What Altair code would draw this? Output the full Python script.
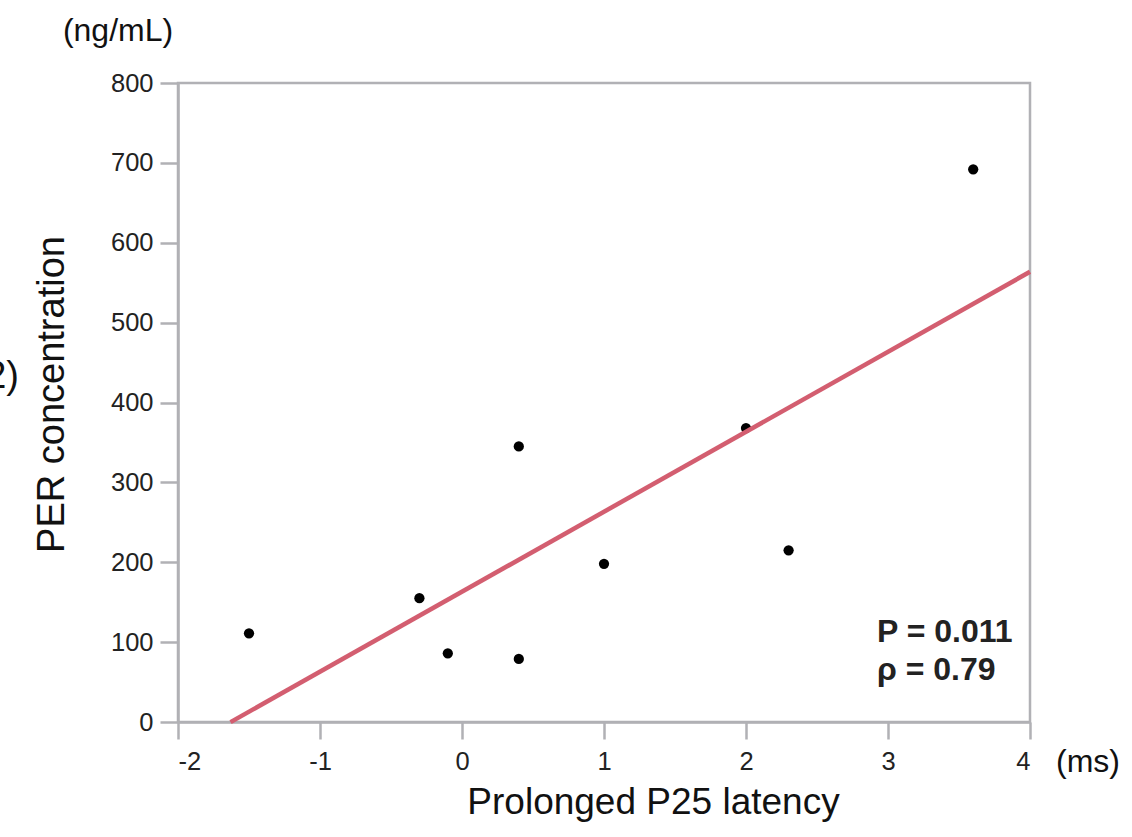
import altair as alt
import pandas as pd

# Data
latency_ms = [-1.5, -0.3, -0.1, 0.4, 0.4, 1.0, 2.0, 2.3, 3.6]
per_ng_ml = [111, 155, 86, 345, 79, 198, 368, 215, 692]
fit_extent = [-1.63, 4.0]
x_ticks = [-2, -1, 0, 1, 2, 3, 4]
y_ticks = [0, 100, 200, 300, 400, 500, 600, 700, 800]
stats_text = ["P = 0.011", "ρ = 0.79"]
x_title = "Prolonged P25 latency"
y_title = "PER concentration"
x_unit = "(ms)"
y_unit = "(ng/mL)"
panel_label = "(2)"

df = pd.DataFrame({"x": latency_ms, "y": per_ng_ml})

FONT = "Liberation Sans"
GREY = "#b1b1b5"
W, H = 852, 639

x_scale = alt.Scale(domain=[-2, 4], nice=False, zero=False)
y_scale = alt.Scale(domain=[0, 800], nice=False)

x_axis = alt.Axis(
    values=x_ticks, title=x_title, grid=False, labelExpr="datum.value + ''",
    domainColor=GREY, domainWidth=2.5, tickColor=GREY, tickWidth=2.5, tickSize=17,
    labelFont=FONT, labelFontSize=25.5, labelColor="#222", labelPadding=10,
    titleFont=FONT, titleFontSize=37, titleFontWeight="normal", titleColor="#111",
    titleX=475, titleY=91, titleAlign="center", titleBaseline="alphabetic",
    titleAnchor="start",
)
y_axis = alt.Axis(
    values=y_ticks, title=y_title, grid=False, labelExpr="datum.value + ''",
    domainColor=GREY, domainWidth=2.5, tickColor=GREY, tickWidth=2.5, tickSize=18,
    labelFont=FONT, labelFontSize=25.5, labelColor="#222", labelPadding=7,
    titleFont=FONT, titleFontSize=38, titleFontWeight="normal", titleColor="#111",
    titleX=-115, titleY=311, titleAlign="center", titleBaseline="alphabetic",
    titleAnchor="start", titleAngle=270,
)

base = alt.Chart(df)

fit = base.transform_regression("x", "y", extent=fit_extent).mark_line(
    color="#d35e70", strokeWidth=4.5
).encode(x=alt.X("x:Q", scale=x_scale, axis=x_axis), y=alt.Y("y:Q", scale=y_scale, axis=y_axis))

points = base.mark_circle(color="black", opacity=1, size=105).encode(
    x=alt.X("x:Q", scale=x_scale), y=alt.Y("y:Q", scale=y_scale)
)

stats = alt.Chart(pd.DataFrame({"t": [stats_text]})).mark_text(
    font=FONT, fontSize=32, fontWeight="bold", align="left", baseline="alphabetic",
    lineHeight=38, color="#222"
).encode(x=alt.value(877 - 178), y=alt.value(642 - 83), text="t:N")

unit_text = alt.Chart(pd.DataFrame({"t": [x_unit]})).mark_text(
    font=FONT, fontSize=32, align="left", baseline="middle", color="#111"
).encode(x=alt.value(1056 - 178), y=alt.value(762 - 83), text="t:N")
unit_text2 = alt.Chart(pd.DataFrame({"t": [y_unit]})).mark_text(
    font=FONT, fontSize=32, align="center", baseline="middle", color="#111"
).encode(x=alt.value(118 - 178), y=alt.value(31 - 83), text="t:N")
panel = alt.Chart(pd.DataFrame({"t": [panel_label]})).mark_text(
    font=FONT, fontSize=38, align="right", baseline="middle", color="#111"
).encode(x=alt.value(19 - 178), y=alt.value(377 - 83), text="t:N")

chart = alt.layer(points, fit, stats, unit_text, unit_text2, panel).properties(
    width=W, height=H,
    autosize=alt.AutoSizeParams(type="none"),
    padding={"left": 178, "top": 83, "right": 1132 - 178 - W, "bottom": 837 - 83 - H},
    background="white",
).configure_view(stroke=GREY, strokeWidth=2.5)

chart.save("out.html", embed_options={"renderer": "svg", "actions": False})
